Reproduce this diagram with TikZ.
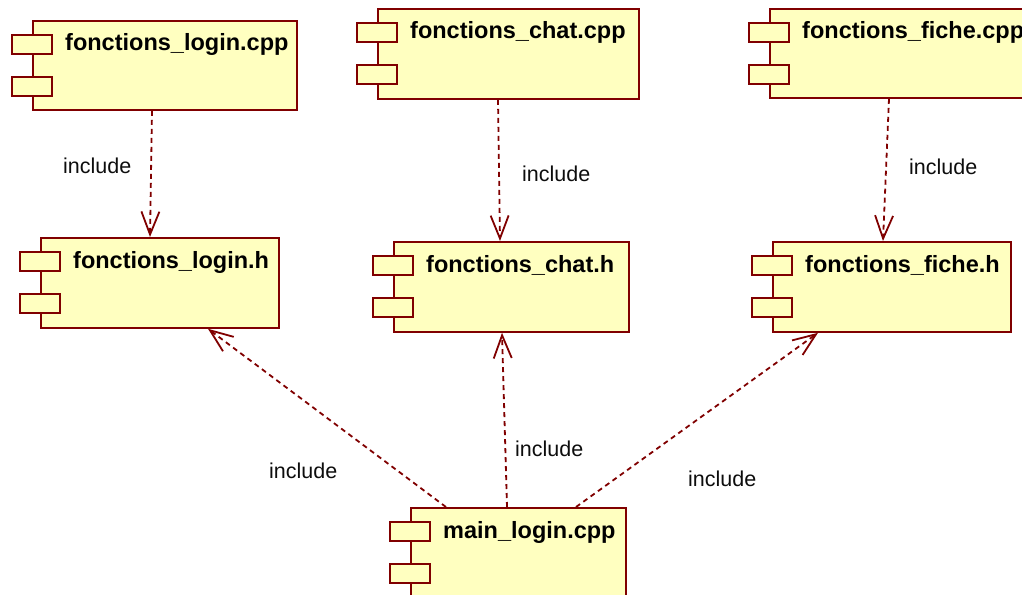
\documentclass[tikz,border=0pt]{standalone}
\usepackage{fontspec}
\setmainfont{Liberation Sans}
\usetikzlibrary{arrows.meta}

\definecolor{compborder}{RGB}{128,0,0}
\definecolor{compfill}{RGB}{255,255,192}

\tikzset{
  compbody/.style={draw=compborder, fill=compfill, line width=1.8pt,
    rectangle, inner sep=0pt, anchor=north west},
  comptab/.style={draw=compborder, fill=compfill, line width=1.8pt,
    rectangle, inner sep=0pt, anchor=north west,
    minimum width=40pt, minimum height=19pt},
  comptitle/.style={anchor=base west, inner sep=0pt,
    font=\fontsize{23.5}{27}\selectfont\bfseries},
  deplabel/.style={anchor=base west, inner sep=0pt,
    font=\fontsize{21.5}{25}\selectfont, text=black!95},
  include/.style={draw=compborder, line width=1.8pt,
    dash pattern=on 5pt off 4pt,
    -{Straight Barb[length=23pt, width=18pt, line width=1.8pt]}},
}

% \umlcomp{name}{x}{y}{width}{height}{title}
\newcommand{\umlcomp}[6]{%
  \node[compbody, minimum width=#4pt, minimum height=#5pt] (#1) at (#2,#3) {};
  \node[comptab] (#1-t1) at ([xshift=-21pt,yshift=-14pt]#1.north west) {};
  \node[comptab] (#1-t2) at ([xshift=-21pt,yshift=-56pt]#1.north west) {};
  \node[comptitle] (#1-n) at ([xshift=33pt,yshift=-31pt]#1.north west) {#6};
}

\begin{document}
\begin{tikzpicture}[x=1pt, y=-1pt]
\useasboundingbox (0,0) rectangle (1022,594);
\clip (0,0) rectangle (1022,594);

% components
\umlcomp{lc}{32}{20}{264}{89}{fonctions\_login.cpp}
\umlcomp{cc}{377}{8}{261}{90}{fonctions\_chat.cpp}
\umlcomp{fc}{769}{8}{262}{89}{fonctions\_fiche.cpp}
\umlcomp{lh}{40}{237}{238}{90}{fonctions\_login.h}
\umlcomp{ch}{393}{241}{235}{90}{fonctions\_chat.h}
\umlcomp{fh}{772}{241}{238}{90}{fonctions\_fiche.h}
\umlcomp{ml}{410}{507}{215}{90}{main\_login.cpp}

% include dependencies
\draw[include] ([xshift=120pt]lc.south west) -- ([xshift=110pt]lh.north west);
\draw[include] ([xshift=121pt]cc.south west) -- ([xshift=107pt]ch.north west);
\draw[include] ([xshift=120pt]fc.south west) -- ([xshift=111pt]fh.north west);
\draw[include] ([xshift=36pt]ml.north west)  -- ([xshift=168pt]lh.south west);
\draw[include] ([xshift=97pt]ml.north west)  -- ([xshift=109pt]ch.south west);
\draw[include] ([xshift=166pt]ml.north west) -- ([xshift=46pt]fh.south west);

% labels
\node[deplabel] (l1) at (63,173)  {include};
\node[deplabel] (l2) at (522,181) {include};
\node[deplabel] (l3) at (909,174) {include};
\node[deplabel] (l4) at (269,478) {include};
\node[deplabel] (l5) at (515,456) {include};
\node[deplabel] (l6) at (688,486) {include};
\end{tikzpicture}
\end{document}
